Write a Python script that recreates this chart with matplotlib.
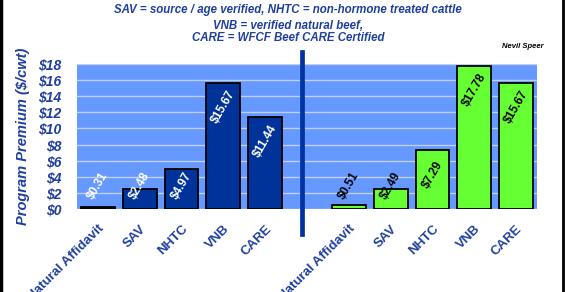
import matplotlib
matplotlib.use("Agg")
import matplotlib.pyplot as plt  # noqa: E402
from matplotlib.lines import Line2D  # noqa: E402

programs = ["Natural Affidavit", "SAV", "NHTC", "VNB", "CARE"]
premium_left = [0.31, 2.48, 4.97, 15.67, 11.44]
premium_right = [0.51, 2.49, 7.29, 17.78, 15.67]
yticks = list(range(0, 19, 2))
notes = [
    "SAV = source / age verified, NHTC = non-hormone treated cattle",
    "VNB = verified natural beef,",
    "CARE = WFCF Beef CARE Certified",
]

TEXT = "#1f3f9f"
plt.rcParams["font.family"] = ["Liberation Sans", "DejaVu Sans"]

fig = plt.figure(figsize=(5.65, 2.92), dpi=100)
ax = fig.add_axes([0.1363, 0.2842, 0.8142, 0.4966])
ax.set_facecolor("#6699ff")

n = len(programs)
left_x = list(range(n))
right_x = [i + n + 1 for i in range(n)]
ax.bar(left_x, premium_left, width=0.81, color="#003399", edgecolor="black", linewidth=1.3, zorder=3)
ax.bar(right_x, premium_right, width=0.81, color="#66ff33", edgecolor="black", linewidth=1.3, zorder=3)

for xs, vals, col in [(left_x, premium_left, "white"), (right_x, premium_right, "black")]:
    for x, v in zip(xs, vals):
        ax.text(x, max(v - 3.0, 2.9), f"${v:.2f}", rotation=60, ha="center", va="center",
                rotation_mode="anchor", color=col, fontsize=8.5, fontweight="bold", zorder=4)

ax.set_xlim(-0.5, 2 * n + 0.5)
ax.set_ylim(0, 18)
ax.set_yticks(yticks, [f"${t}" for t in yticks])
ax.set_xticks(left_x + right_x, programs + programs)
for lab in ax.get_xticklabels():
    lab.set_rotation(45); lab.set_ha("right"); lab.set_va("top")
    lab.set_rotation_mode("anchor"); lab.set_fontsize(9.5); lab.set_fontweight("bold")
    lab.set_color(TEXT)
for lab in ax.get_yticklabels():
    lab.set_fontsize(10); lab.set_fontweight("bold"); lab.set_fontstyle("italic"); lab.set_color(TEXT)
ax.tick_params(length=0)
ax.tick_params(axis="x", pad=10)
ax.tick_params(axis="y", pad=11)
ax.yaxis.grid(True, color="#c0cef2", linewidth=1, zorder=1)
for s in ax.spines.values():
    s.set_visible(False)
ax.set_ylabel("Program Premium ($/cwt)", fontsize=10.5, fontweight="bold", fontstyle="italic",
              color=TEXT, labelpad=6)

# divider between the two groups
ax.plot([4.88, 4.88], [-0.17, 1.08], transform=ax.get_xaxis_transform(), color="#0033a0",
        linewidth=3.4, clip_on=False, zorder=5)

for y, t in zip([0.965, 0.91, 0.87], notes):
    fig.text(0.51, y, t, ha="center", va="center", fontsize=8.3, fontweight="bold",
             fontstyle="italic", color=TEXT)
fig.text(0.925, 0.84, "Nevil Speer", ha="center", va="center", fontsize=5.5,
         fontweight="bold", fontstyle="italic", color="black")

fig.add_artist(Line2D([0.0025, 0.0025], [0, 1], color="black", linewidth=2.5))
fig.add_artist(Line2D([0.9965, 0.9965], [0, 1], color="black", linewidth=2))

fig.savefig("out.png", dpi=100)
